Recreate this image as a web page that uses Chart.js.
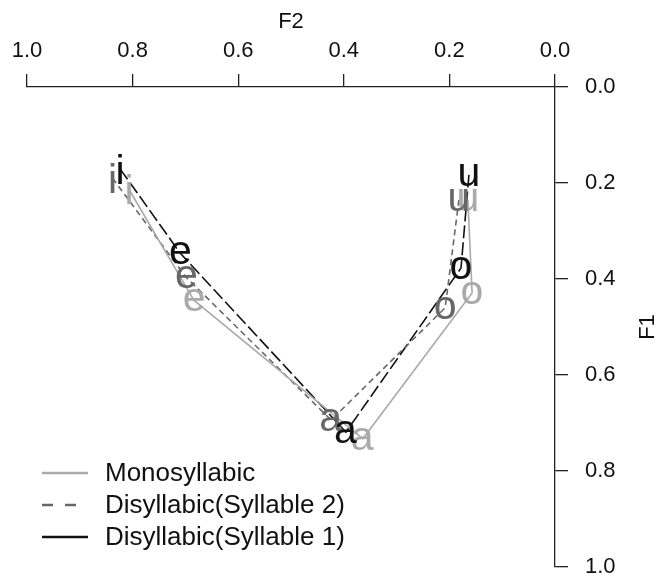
<!DOCTYPE html>
<html>
<head>
<meta charset="utf-8">
<script src="https://cdn.jsdelivr.net/npm/chart.js@4/dist/chart.umd.min.js"></script>
<style>
  html, body { margin: 0; padding: 0; background: #ffffff; }
  #wrap { width: 663px; height: 576px; }
</style>
</head>
<body>
<div id="wrap"><canvas id="chart" width="663" height="576"></canvas></div>
<script>
// Vowel categories, drawn in this order along each line
const vowels = ['i', 'e', 'a', 'o', 'u'];

// Normalised formant values per series (F2 horizontal, F1 vertical)
const monoF2 = [0.807, 0.684, 0.364, 0.157, 0.165];
const monoF1 = [0.213, 0.444, 0.733, 0.429, 0.235];

const syl2F2 = [0.838, 0.699, 0.424, 0.208, 0.182];
const syl2F1 = [0.190, 0.396, 0.694, 0.460, 0.235];

const syl1F2 = [0.824, 0.710, 0.396, 0.178, 0.163];
const syl1F1 = [0.170, 0.346, 0.719, 0.377, 0.183];

const seriesNames = ['Monosyllabic', 'Disyllabic(Syllable 2)', 'Disyllabic(Syllable 1)'];

// Axis tick values
const f2Ticks = [1.0, 0.8, 0.6, 0.4, 0.2, 0.0];
const f1Ticks = [0.0, 0.2, 0.4, 0.6, 0.8, 1.0];

const FONT = '"Liberation Sans", Arial, Helvetica, sans-serif';
const colors = ['#aaaaaa', '#676767', '#111111'];
const lineDashes = [[], [6, 4], [13, 4]];
const legendDashes = [[], [11, 12], []];

function toPoints(xs, ys) {
  return xs.map((x, i) => ({ x: x, y: ys[i] }));
}

const datasets = [
  { label: seriesNames[0], data: toPoints(monoF2, monoF1) },
  { label: seriesNames[1], data: toPoints(syl2F2, syl2F1) },
  { label: seriesNames[2], data: toPoints(syl1F2, syl1F1) }
].map((d, k) => Object.assign(d, {
  showLine: true,
  borderColor: colors[k],
  backgroundColor: colors[k],
  borderWidth: 1.6,
  borderDash: lineDashes[k],
  pointRadius: 0,
  pointHoverRadius: 0,
  tension: 0
}));

// Vowel letters centred on each point of every series
const vowelLabels = {
  id: 'vowelLabels',
  afterDatasetsDraw(chart) {
    const ctx = chart.ctx;
    ctx.save();
    ctx.font = '41px ' + FONT;
    ctx.textAlign = 'left';
    ctx.textBaseline = 'alphabetic';
    chart.data.datasets.forEach((ds, k) => {
      const meta = chart.getDatasetMeta(k);
      ctx.fillStyle = ds.borderColor;
      meta.data.forEach((pt, j) => {
        const txt = vowels[j];
        const m = ctx.measureText(txt);
        const dx = (m.actualBoundingBoxRight - m.actualBoundingBoxLeft) / 2;
        const dy = (m.actualBoundingBoxAscent - m.actualBoundingBoxDescent) / 2;
        ctx.fillText(txt, pt.x - dx, pt.y + dy);
      });
    });
    ctx.restore();
  }
};

// Legend in the lower-left of the plot, plus the rotated F1 axis title
const overlay = {
  id: 'overlay',
  afterDraw(chart) {
    const ctx = chart.ctx;
    const area = chart.chartArea;
    ctx.save();
    const x0 = area.left + 15;
    const x1 = x0 + 46;
    const tx = area.left + 78;
    const rows = [area.top + 386, area.top + 418, area.top + 450];
    ctx.font = '26px ' + FONT;
    ctx.textBaseline = 'middle';
    ctx.textAlign = 'left';
    chart.data.datasets.forEach((ds, k) => {
      const y = rows[k];
      ctx.beginPath();
      ctx.strokeStyle = ds.borderColor;
      ctx.lineWidth = 2.6;
      ctx.setLineDash(legendDashes[k]);
      ctx.moveTo(x0, y);
      ctx.lineTo(x1, y);
      ctx.stroke();
      ctx.setLineDash([]);
      ctx.fillStyle = '#111111';
      ctx.fillText(ds.label, tx, y + 1);
    });

    // F1 title, reading bottom to top
    ctx.translate(648, (area.top + area.bottom) / 2);
    ctx.rotate(-Math.PI / 2);
    ctx.textAlign = 'center';
    ctx.font = '22px ' + FONT;
    ctx.fillText('F1', 0, 0);
    ctx.restore();
  }
};

const axisColor = '#222222';

new Chart(document.getElementById('chart'), {
  type: 'scatter',
  data: { datasets: datasets },
  options: {
    responsive: false,
    maintainAspectRatio: false,
    devicePixelRatio: 1,
    animation: false,
    events: [],
    layout: { padding: { left: 27, right: 0, top: 0, bottom: 9 } },
    plugins: {
      legend: { display: false },
      tooltip: { enabled: false }
    },
    scales: {
      x: {
        type: 'linear',
        position: 'top',
        reverse: true,
        min: 0,
        max: 1,
        afterBuildTicks: s => { s.ticks = f2Ticks.map(v => ({ value: v })); },
        afterFit: s => { s.height = 87; s.paddingLeft = 0; s.paddingRight = 0; },
        grid: { display: true, drawOnChartArea: false, drawTicks: true, tickLength: 13, color: axisColor, lineWidth: 1.3 },
        border: { display: true, color: axisColor, width: 1.3 },
        ticks: {
          color: '#111111',
          font: { family: FONT, size: 22 },
          padding: 10,
          maxRotation: 0,
          autoSkip: false,
          callback: v => Number(v).toFixed(1)
        },
        title: {
          display: true,
          text: 'F2',
          color: '#111111',
          font: { family: FONT, size: 22 },
          padding: { top: 9, bottom: 0 }
        }
      },
      y: {
        type: 'linear',
        position: 'right',
        reverse: true,
        min: 0,
        max: 1,
        afterBuildTicks: s => { s.ticks = f1Ticks.map(v => ({ value: v })); },
        afterFit: s => { s.width = 108; s.paddingTop = 0; s.paddingBottom = 0; },
        grid: { display: true, drawOnChartArea: false, drawTicks: true, tickLength: 13, color: axisColor, lineWidth: 1.3 },
        border: { display: true, color: axisColor, width: 1.3 },
        ticks: {
          color: '#111111',
          font: { family: FONT, size: 22 },
          padding: 17,
          autoSkip: false,
          callback: v => Number(v).toFixed(1)
        },
        title: { display: false }
      }
    }
  },
  plugins: [vowelLabels, overlay]
});
</script>
</body>
</html>
